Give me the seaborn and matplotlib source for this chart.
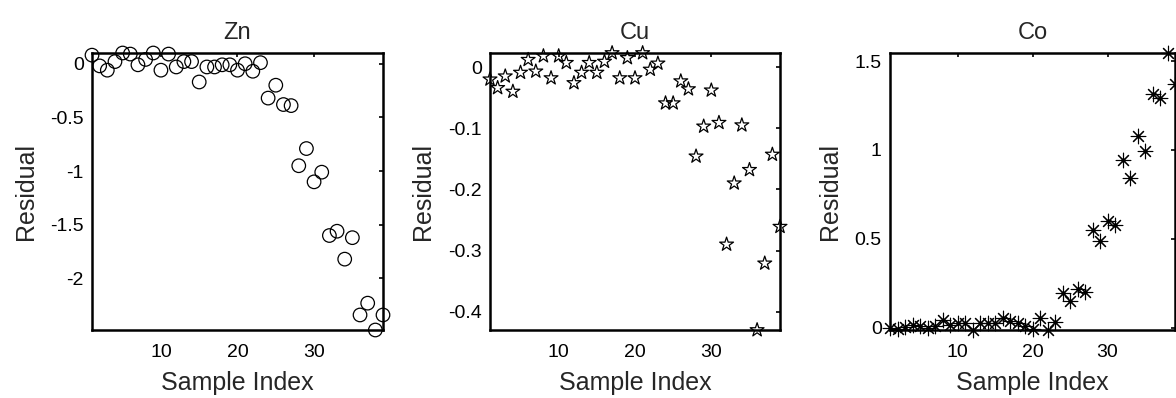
import numpy as np
import pandas as pd
import matplotlib
matplotlib.use('Agg')
import matplotlib.pyplot as plt
import seaborn as sns

# residuals per sample (index 1..39)
sample_index = list(range(1, 40))

zn_resid = [0.08, -0.02, -0.06, 0.02, 0.10, 0.09, -0.01, 0.04, 0.10, -0.06,
            0.09, -0.03, 0.02, 0.02, -0.17, -0.03, -0.03, -0.01, -0.01, -0.06,
            0.00, -0.07, 0.01, -0.32, -0.20, -0.38, -0.39, -0.95, -0.79, -1.10,
            -1.01, -1.60, -1.56, -1.82, -1.62, -2.34, -2.23, -2.48, -2.34]

cu_resid = [-0.020, -0.034, -0.015, -0.040, -0.009, 0.012, -0.007, 0.018, -0.018, 0.018,
            0.007, -0.026, -0.009, 0.007, -0.009, 0.009, 0.023, -0.018, 0.015, -0.018,
            0.023, -0.004, 0.006, -0.059, -0.059, -0.023, -0.036, -0.146, -0.097, -0.038,
            -0.091, -0.290, -0.190, -0.095, -0.168, -0.430, -0.321, -0.143, -0.261]

co_resid = [0.0, -0.005, 0.005, 0.018, 0.010, 0.0, 0.010, 0.043, 0.018, 0.028,
            0.028, -0.012, 0.028, 0.030, 0.030, 0.056, 0.037, 0.028, 0.010, -0.005,
            0.056, -0.010, 0.032, 0.197, 0.150, 0.219, 0.200, 0.549, 0.487, 0.600,
            0.576, 0.943, 0.844, 1.078, 0.994, 1.313, 1.290, 1.545, 1.370]

titles = ['Zn', 'Cu', 'Co']
yticks = [[0, -0.5, -1, -1.5, -2], [0, -0.1, -0.2, -0.3, -0.4], [0, 0.5, 1, 1.5]]
xticks = [10, 20, 30]

sns.set_style('white')
plt.rcParams['font.family'] = ['Liberation Sans', 'DejaVu Sans']
plt.rcParams['axes.unicode_minus'] = False

fig, axes = plt.subplots(1, 3, figsize=(11.76, 3.98), dpi=100)

# axes boxes in pixels (left, right) ; shared top/bottom
W, H = 1176, 398
boxes = [(92, 383), (490, 780), (890, 1175)]
top_px, bot_px = 53, 330
for ax, (l, r) in zip(axes, boxes):
    ax.set_position([l / W, 1 - bot_px / H, (r - l) / W, (bot_px - top_px) / H])

df = pd.DataFrame({'idx': sample_index, 'Zn': zn_resid, 'Cu': cu_resid, 'Co': co_resid})

sns.scatterplot(data=df, x='idx', y='Zn', ax=axes[0], marker='o', s=95,
                facecolors='none', edgecolor='black', linewidth=0.9, clip_on=False)
sns.scatterplot(data=df, x='idx', y='Cu', ax=axes[1], marker='*', s=110,
                facecolors='none', edgecolor='black', linewidth=0.9, clip_on=False)
sns.scatterplot(data=df, x='idx', y='Co', ax=axes[2], marker=(8, 2, 0), s=110,
                color='black', linewidth=0.8, clip_on=False)
sns.scatterplot(data=df, x='idx', y='Co', ax=axes[2], marker='o', s=8,
                color='black', linewidth=0, clip_on=False)

for ax, name, yt in zip(axes, titles, yticks):
    vals = df[name]
    ax.set_xlim(1, 39)
    ax.set_ylim(vals.min(), vals.max())
    ax.set_xticks(xticks)
    ax.set_yticks(yt)
    ax.set_yticklabels([f'{v:g}' for v in yt])
    ax.set_title(name, fontsize=17, pad=10)
    ax.set_xlabel('Sample Index', fontsize=18, labelpad=7)
    ax.set_ylabel('Residual', fontsize=18, labelpad=9)
    ax.tick_params(direction='in', length=3, width=1.2, labelsize=14, pad=6,
                   top=True, right=True, colors='black')
    ax.tick_params(axis='x', pad=10)
    for sp in ax.spines.values():
        sp.set_visible(True)
        sp.set_linewidth(1.8)
        sp.set_color('black')
    ax.grid(False)

fig.savefig('out.png', dpi=100)
